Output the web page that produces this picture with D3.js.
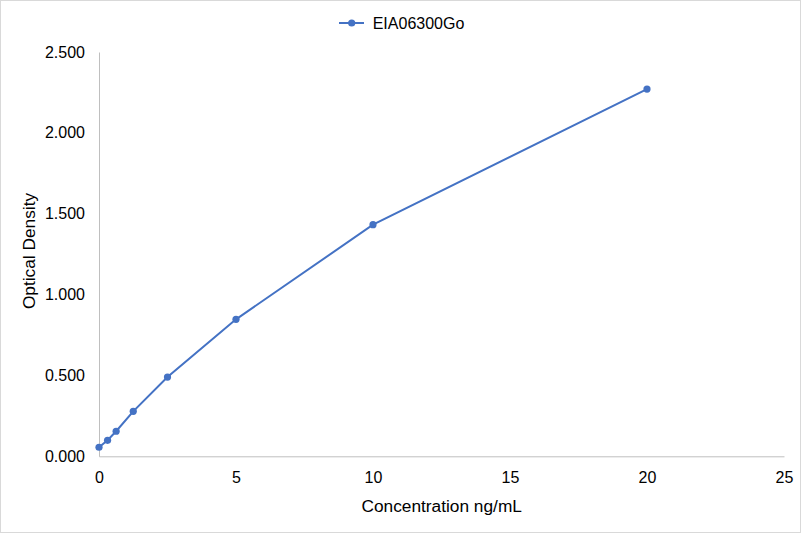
<!DOCTYPE html>
<html><head><meta charset="utf-8">
<script src="https://cdn.jsdelivr.net/npm/d3@7"></script>
<style>body{margin:0;background:#fff}svg{display:block;font-family:"Liberation Sans",Arial,sans-serif}</style>
</head><body>
<svg id="c" width="801" height="533"></svg>
<script>
const seriesName = "EIA06300Go";
const concentrations = [0, 0.3125, 0.625, 1.25, 2.5, 5, 10, 20];
const odValues = [0.056, 0.099, 0.155, 0.278, 0.490, 0.847, 1.432, 2.271];
const xTicks = [0, 5, 10, 15, 20, 25];
const yTicks = [0, 0.5, 1.0, 1.5, 2.0, 2.5];
const xTitle = "Concentration ng/mL";
const yTitle = "Optical Density";

const svg = d3.select("#c");
const W = 801, H = 533;
const color = "#4472C4";
svg.append("rect").attr("x",0.5).attr("y",0.5).attr("width",W-1).attr("height",H-1)
  .attr("fill","#fff").attr("stroke","#d9d9d9");

const x = d3.scaleLinear().domain([0,25]).range([99,784]);
const y = d3.scaleLinear().domain([0,2.5]).range([456.3,52]);

const fs = "16px";
const fsTitle = "17.3px";
// axes
const xa = svg.append("g").attr("transform",`translate(0,${y(0)})`)
  .call(d3.axisBottom(x).tickValues(xTicks).tickSize(0).tickPadding(15.5).tickFormat(d3.format("d")));
const ya = svg.append("g").attr("transform",`translate(${x(0)},0)`)
  .call(d3.axisLeft(y).tickValues(yTicks).tickSize(0).tickPadding(14).tickFormat(d3.format(".3f")));
[xa,ya].forEach(a=>{
  a.select(".domain").attr("stroke","#bfbfbf").attr("stroke-width",1);
  a.selectAll("text").attr("fill","#000").style("font-size",fs).style("font-family","'Liberation Sans',Arial,sans-serif");
});

// line
const pts = concentrations.map((c,i)=>[c,odValues[i]]);
svg.append("path").datum(pts)
  .attr("fill","none").attr("stroke",color).attr("stroke-width",2)
  .attr("d", d3.line().x(d=>x(d[0])).y(d=>y(d[1])));
svg.selectAll("circle.pt").data(pts).enter().append("circle")
  .attr("class","pt").attr("cx",d=>x(d[0])).attr("cy",d=>y(d[1])).attr("r",3.6).attr("fill",color);

// titles
svg.append("text").attr("x",441.7).attr("y",512).attr("text-anchor","middle")
  .style("font-size",fsTitle).attr("fill","#000").text(xTitle);
svg.append("text").attr("transform","translate(35,251) rotate(-90)").attr("text-anchor","middle")
  .style("font-size",fsTitle).attr("fill","#000").text(yTitle);

// legend
svg.append("line").attr("x1",339).attr("x2",364).attr("y1",23).attr("y2",23)
  .attr("stroke",color).attr("stroke-width",2);
svg.append("circle").attr("cx",351.7).attr("cy",23).attr("r",3.6).attr("fill",color);
svg.append("text").attr("x",372.7).attr("y",29).style("font-size",fs).attr("fill","#000").text(seriesName);
</script>
</body></html>
